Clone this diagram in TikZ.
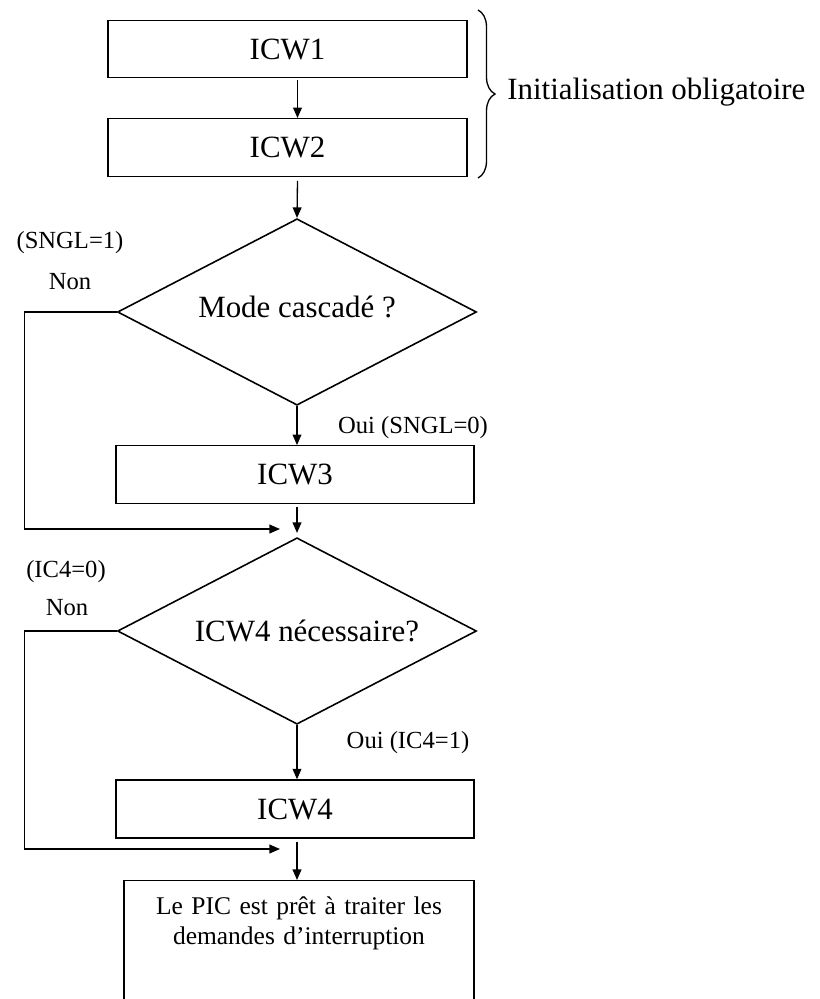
\documentclass[tikz,border=0pt]{standalone}
\usepackage{fontspec}
\setmainfont{Liberation Serif}
\usepackage{tikz}
\usetikzlibrary{shapes.geometric, arrows.meta, positioning, calc, decorations.pathreplacing}
\definecolor{mydark}{RGB}{0,0,0}
\tikzset{
  block/.style={rectangle, draw=mydark, minimum width=7.18cm, minimum height=1.15cm,
    inner sep=0pt, font=\fontsize{17.6}{21}\selectfont, line width=0.75pt},
  decision/.style={diamond, draw=mydark, aspect=1.93, minimum width=7.18cm,
    minimum height=3.73cm, inner sep=0pt, font=\fontsize{17.6}{21}\selectfont, line width=0.9pt},
  arrow/.style={-{Triangle[length=6pt, width=5pt]}, line width=0.75pt, color=mydark},
  line/.style={line width=0.75pt, color=mydark},
  tag/.style={font=\fontsize{14}{16}\selectfont, color=mydark, inner sep=0pt}
}

\begin{document}
\begin{tikzpicture}
  \clip (0,0) rectangle (16.4,-19.98);

  % Initialisation words
  \node[block] (icw1) at (5.75,-0.98) {ICW1};
  \node[block] (icw2) at (5.75,-2.95) {ICW2};
  \draw[decorate, decoration={brace, amplitude=0.34cm}, line width=0.75pt] (9.56,-0.2) -- (9.56,-3.56);
  \node[anchor=west, font=\fontsize{17.6}{21}\selectfont, inner sep=0pt] (init) at (10.14,-1.84) {Initialisation obligatoire};

  % Decisions and optional words
  \node[decision] (d1) at (5.94,-6.24) {\raisebox{0.2cm}{Mode cascadé ?}};
  \node[block, minimum width=7.16cm] (icw3) at (5.90,-9.49) {ICW3};
  \node[decision] (d2) at (5.94,-12.62) {\hspace*{0.4cm}ICW4 nécessaire?};
  \node[block, minimum width=7.16cm, minimum height=1.16cm] (icw4) at (5.90,-16.18) {ICW4};
  \node[rectangle, draw=mydark, line width=0.75pt, anchor=north, minimum width=7.0cm,
    text width=6.8cm, align=center, inner xsep=0pt, inner ysep=0.32cm, text depth=3cm,
    font=\fontsize{14.5}{17}\selectfont] (ready) at (5.98,-17.6)
    {Le PIC est prêt à traiter les\\demandes d’interruption};

  % Merge points
  \coordinate (m1) at ($(d2.north)+(0,0.08)$);
  \coordinate (j1) at (5.6,-10.58);
  \coordinate (j2) at (5.6,-16.98);

  % Main flow
  \draw[arrow] ($(icw1.south)+(0.2,-0.04)$) -- ($(icw2.north)+(0.2,0)$);
  \draw[arrow] ($(icw2.south)+(0.2,-0.08)$) -- (d1.north);
  \draw[arrow] (d1.south) -- (d1.south |- icw3.north);
  \draw[arrow] ($(icw3.south -| d2.north)+(0,-0.06)$) -- (m1);
  \draw[arrow] (d2.south) -- (d2.south |- icw4.north);
  \draw[arrow] ($(icw4.south -| d2.north)+(0,-0.06)$) -- (d2.north |- ready.north);

  % Bypass loops
  \draw[arrow] (d1.west) -- ++(-1.84,0) |- (j1);
  \draw[arrow] (d2.west) -- ++(-1.84,0) |- (j2);

  % Branch labels
  \node[tag] (s1) at (1.40,-4.86) {(SNGL=1)};
  \node[tag] (n1) at (1.40,-5.64) {Non};
  \node[tag] (o1) at (8.26,-8.56) {Oui (SNGL=0)};
  \node[tag] (s2) at (1.32,-11.44) {(IC4=0)};
  \node[tag] (n2) at (1.34,-12.16) {Non};
  \node[tag] (o2) at (8.16,-14.86) {Oui (IC4=1)};
\end{tikzpicture}
\end{document}
